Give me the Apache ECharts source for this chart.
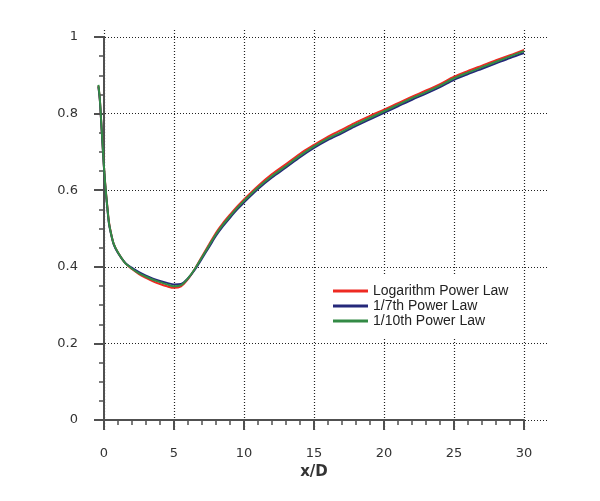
<!DOCTYPE html>
<html>
<head>
<meta charset="utf-8">
<script src="https://cdn.jsdelivr.net/npm/echarts@6/dist/echarts.min.js"></script>
<style>
  html, body { margin: 0; padding: 0; background: #fff; }
  #chart { width: 600px; height: 501px; }
</style>
</head>
<body>
<div id="chart"></div>
<script>
// x/D sample positions
var xs = [-0.4, -0.3, -0.2, -0.1, 0, 0.1, 0.2, 0.35, 0.5, 0.7, 1, 1.5, 2, 2.5, 3, 3.5, 4, 4.5, 5, 5.5,
  6, 6.5, 7, 7.5, 8, 8.5, 9, 9.5, 10, 11, 12, 13, 14, 15, 16, 17, 18, 19, 20,
  21, 22, 23, 24, 25, 26, 27, 28, 29, 30];

var logLaw = [0.872, 0.838, 0.779, 0.719, 0.66, 0.611, 0.572, 0.518, 0.488, 0.459, 0.437, 0.41, 0.394, 0.381, 0.371, 0.362, 0.355, 0.349, 0.345, 0.349,
  0.368, 0.395, 0.427, 0.458, 0.489, 0.514, 0.536, 0.557, 0.576, 0.611, 0.642, 0.668, 0.695, 0.718, 0.74, 0.758, 0.777, 0.794, 0.81,
  0.827, 0.844, 0.86, 0.877, 0.896, 0.911, 0.925, 0.939, 0.952, 0.966];

var seventhLaw = [0.87, 0.836, 0.777, 0.717, 0.657, 0.607, 0.568, 0.514, 0.486, 0.458, 0.436, 0.411, 0.397, 0.386, 0.377, 0.369, 0.363, 0.358, 0.354, 0.355,
  0.37, 0.393, 0.422, 0.451, 0.481, 0.506, 0.528, 0.549, 0.568, 0.603, 0.633, 0.659, 0.686, 0.71, 0.731, 0.749, 0.768, 0.785, 0.802,
  0.819, 0.836, 0.852, 0.869, 0.888, 0.903, 0.917, 0.931, 0.945, 0.958];

var tenthLaw = [0.875, 0.84, 0.78, 0.72, 0.66, 0.609, 0.57, 0.516, 0.487, 0.459, 0.437, 0.41, 0.395, 0.383, 0.374, 0.366, 0.36, 0.354, 0.349, 0.352,
  0.37, 0.395, 0.425, 0.455, 0.485, 0.51, 0.532, 0.553, 0.572, 0.607, 0.637, 0.663, 0.69, 0.714, 0.735, 0.753, 0.772, 0.789, 0.806,
  0.823, 0.84, 0.856, 0.873, 0.892, 0.907, 0.921, 0.935, 0.949, 0.963];

var xTicks = [0, 5, 10, 15, 20, 25, 30];
var yTicks = [0, 0.2, 0.4, 0.6, 0.8, 1];
var seriesNames = ['Logarithm Power Law', '1/7th Power Law', '1/10th Power Law'];
var colors = ['#ee2a22', '#25287a', '#338a45'];

function pairs(ys) {
  return xs.map(function (x, i) { return [x, ys[i]]; });
}

var chart = echarts.init(document.getElementById('chart'), null, { renderer: 'canvas' });

var axisColor = '#505050';
var labelFont = { fontFamily: 'DejaVu Sans', fontSize: 13, color: '#333' };
var dotted = { color: '#222', width: 1.2, type: [1, 2] };

chart.setOption({
  animation: false,
  backgroundColor: '#fff',
  color: colors,
  grid: [
    // frame for the dotted grid lines (a bit wider than the data range)
    { left: 96, right: 53, top: 30, bottom: 71 },
    // data area: x 0..30, y 0..1
    { left: 104, right: 76, top: 37, bottom: 81 }
  ],
  xAxis: [
    {
      gridIndex: 0, type: 'value', min: -0.571, max: 31.64,
      axisLine: { show: false }, axisLabel: { show: false },
      axisTick: { show: false, customValues: xTicks },
      splitLine: { show: true, lineStyle: dotted }
    },
    {
      gridIndex: 1, type: 'value', min: 0, max: 30, interval: 5, offset: 10,
      name: 'x/D', nameLocation: 'middle', nameGap: 31,
      nameTextStyle: { fontFamily: 'DejaVu Sans', fontSize: 15, fontWeight: 'bold', color: '#333' },
      axisLine: { show: true, lineStyle: { color: axisColor, width: 2 } },
      axisTick: { show: true, inside: false, length: 10, lineStyle: { color: axisColor, width: 2 } },
      minorTick: { show: true, splitNumber: 5, length: 5, lineStyle: { color: axisColor, width: 1.5 } },
      axisLabel: Object.assign({ margin: 17 }, labelFont),
      splitLine: { show: false }
    }
  ],
  yAxis: [
    {
      gridIndex: 0, type: 'value', min: -0.026, max: 1.018,
      axisLine: { show: false }, axisLabel: { show: false },
      axisTick: { show: false, customValues: yTicks },
      splitLine: { show: true, lineStyle: dotted }
    },
    {
      gridIndex: 1, type: 'value', min: 0, max: 1, interval: 0.2, offset: 8,
      axisLine: { show: true, lineStyle: { color: axisColor, width: 2 } },
      axisTick: { show: true, inside: false, length: 10, lineStyle: { color: axisColor, width: 2 } },
      minorTick: { show: true, splitNumber: 4, length: 5, lineStyle: { color: axisColor, width: 1.5 } },
      axisLabel: Object.assign({ margin: 18 }, labelFont),
      splitLine: { show: false }
    }
  ],
  legend: {
    orient: 'vertical',
    left: 322,
    top: 274,
    padding: [10, 12, 10, 11],
    backgroundColor: '#fff',
    itemWidth: 35,
    itemHeight: 3,
    itemGap: 1,
    icon: 'rect',
    textStyle: { fontFamily: 'Liberation Sans', fontSize: 14, color: '#222' },
    data: seriesNames
  },
  // curves drawn on the frame axes (same linear mapping as the data area)
  series: [
    { name: seriesNames[0], data: pairs(logLaw) },
    { name: seriesNames[1], data: pairs(seventhLaw) },
    { name: seriesNames[2], data: pairs(tenthLaw) }
  ].map(function (s, i) {
    return {
      name: s.name, type: 'line', xAxisIndex: 0, yAxisIndex: 0,
      data: s.data, showSymbol: false, smooth: 0.3,
      lineStyle: { width: 2, color: colors[i] },
      itemStyle: { color: colors[i] }
    };
  })
});
</script>
</body>
</html>
